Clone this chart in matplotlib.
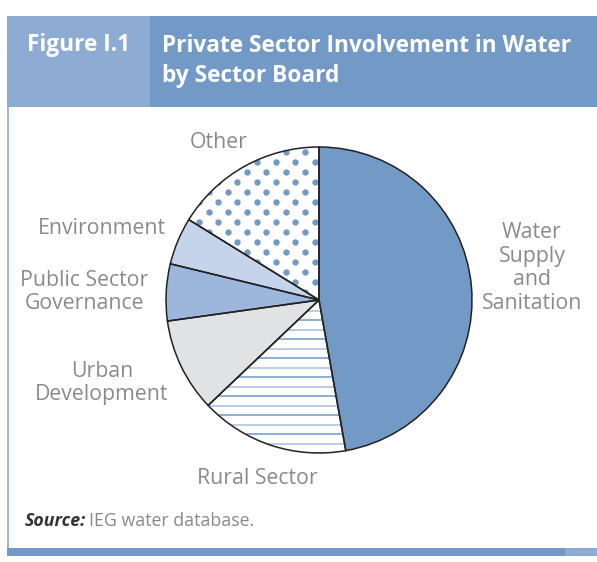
import numpy as np
import matplotlib
matplotlib.use("Agg")
import matplotlib.pyplot as plt
from matplotlib.patches import Rectangle
from matplotlib.collections import LineCollection

# Share of private-sector-involvement water projects by sector board (%)
sectors = ["Water\nSupply\nand\nSanitation", "Rural Sector", "Urban\nDevelopment",
           "Public Sector\nGovernance", "Environment", "Other"]
shares = [47.2, 15.7, 9.9, 6.0, 5.0, 16.2]

W, H = 597, 562
fig = plt.figure(figsize=(W / 100, H / 100), dpi=100)
ax = fig.add_axes([0, 0, 1, 1])

BLUE = "#7399c6"
LIGHT_BLUE = "#8eabd3"
GRAY_TXT = "#8a8a8a"
FONT = "Open Sans"

def py(y):
    """Convert a top-down pixel row to axes y."""
    return H - y

# Pie
cx, cy, r = 319, py(300), 153
fills = [BLUE, "white", "#e1e2e4", "#9db7dc", "#c6d4eb", "white"]
wedges, _ = ax.pie(shares, colors=fills, startangle=90, counterclock=False,
                   center=(cx, cy), radius=r, frame=True,
                   wedgeprops=dict(edgecolor="none", linewidth=0))

# Rural Sector: horizontal rule pattern
rural = wedges[1]
segs, cols = [], []
ys = np.arange(cy - r, cy + 2, 9.5)
for i, yy in enumerate(ys):
    segs.append([(cx - r, yy), (cx + r, yy)])
    cols.append("#86a6d0" if i % 2 == 0 else "#b3c7e4")
lc = LineCollection(segs, colors=cols, linewidths=1.3, zorder=2)
ax.add_collection(lc)
lc.set_clip_path(rural)

# Other: staggered dot pattern
other = wedges[5]
dx, dy = 19.3, 10.0
pts = []
for j, yy in enumerate(np.arange(cy + r + 5, cy - 5, -dy)):
    off = 0 if j % 2 == 0 else dx / 2
    for xx in np.arange(cx - 4.3 - off, cx - r - 10, -dx):
        pts.append((xx, yy))
pts = np.array(pts)
dots = ax.scatter(pts[:, 0], pts[:, 1], s=21, color=BLUE, linewidths=0, zorder=2)
dots.set_clip_path(other)

# Wedge outlines drawn above the patterns
ax.pie(shares, colors=["none"] * 6, startangle=90, counterclock=False,
       center=(cx, cy), radius=r, frame=True,
       wedgeprops=dict(edgecolor="#222222", linewidth=1.1, zorder=5))

# Slice labels
lab_kw = dict(fontsize=15.3, color=GRAY_TXT, family=FONT, linespacing=1.16)
ax.text(532, py(268), sectors[0], ha="center", va="center", **lab_kw)
ax.text(257, py(479), sectors[1], ha="center", va="center", **lab_kw)
ax.text(102, py(383), sectors[2], ha="center", va="center", **lab_kw)
ax.text(84, py(292), sectors[3], ha="center", va="center", **lab_kw)
ax.text(102, py(228), sectors[4], ha="center", va="center", **lab_kw)
ax.text(219, py(143), sectors[5], ha="center", va="center", **lab_kw)

# Header band
ax.add_patch(Rectangle((7, py(107)), 143, 91, facecolor=LIGHT_BLUE, edgecolor="none", zorder=1))
ax.add_patch(Rectangle((150, py(107)), W - 150, 91, facecolor=BLUE, edgecolor="none", zorder=1))
ax.text(27, py(45), "Figure I.1", ha="left", va="center", color="white",
        fontsize=16.3, fontweight="bold", family=FONT, zorder=2)
ax.text(162, py(61), "Private Sector Involvement in Water\nby Sector Board",
        ha="left", va="center", color="white", fontsize=16.3, fontweight="bold",
        family=FONT, linespacing=1.3, zorder=2)

# Frame: left rule and bottom bar
ax.plot([7.5, 7.5], [py(107), py(548)], color=LIGHT_BLUE, linewidth=1.2, zorder=1)
ax.add_patch(Rectangle((7, py(556)), 558, 8, facecolor=BLUE, edgecolor="none", zorder=1))
ax.add_patch(Rectangle((565, py(556)), W - 565, 8, facecolor=LIGHT_BLUE, edgecolor="none", zorder=1))

# Source note
src = ax.text(25, py(521), "Source:", ha="left", va="center", color="#333333",
              fontsize=12.8, fontweight="bold", fontstyle="italic", family=FONT)
ax.annotate("IEG water database.", xy=(1, 0.5), xycoords=src, xytext=(3, 0),
            textcoords="offset pixels", ha="left", va="center", color="#888888",
            fontsize=12.8, family=FONT)

ax.set_xlim(0, W)
ax.set_ylim(0, H)
ax.set_aspect("auto")
ax.axis("off")
fig.savefig("out.png", dpi=100)
